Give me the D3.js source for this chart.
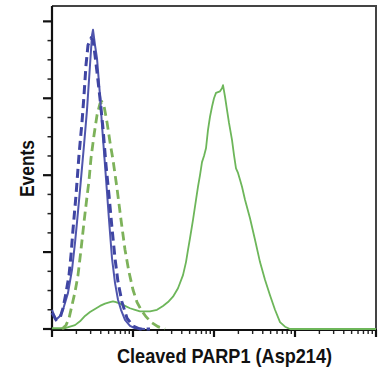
<!DOCTYPE html>
<html>
<head>
<meta charset="utf-8">
<script src="https://cdn.jsdelivr.net/npm/d3@7"></script>
<style>
  html, body { margin: 0; padding: 0; background: #fff; }
  svg { display: block; }
</style>
</head>
<body>
<svg id="chart" width="380" height="371"></svg>
<script>
// ---- data (intensity on log axis, event counts) ----
const blueSolidX = [1.00, 1.121, 1.255, 1.367, 1.576, 1.766, 1.923, 2.036, 2.217, 2.484, 2.705, 2.945, 3.118, 3.208, 3.396, 3.594, 3.913, 4.142, 4.511, 4.775, 5.054, 5.505, 5.995, 6.529, 7.110, 7.966, 9.183, 10.59, 14.07];
const blueSolidY = [25, 12, 17, 25, 47, 77, 112, 139, 181, 239, 285, 343, 382, 389, 369, 352, 304, 265, 213, 178, 142, 92, 60, 38, 25, 12, 4, 1, 0];

const blueDashX = [1.00, 1.121, 1.255, 1.367, 1.489, 1.622, 1.716, 1.816, 1.979, 2.154, 2.346, 2.484, 2.629, 2.783, 3.030, 3.208, 3.396, 3.594, 3.913, 4.261, 4.642, 5.054, 5.505, 5.995, 6.529, 7.315, 8.432, 10.0, 12.2, 16.21];
const blueDashY = [21, 12, 14, 27, 47, 70, 96, 129, 174, 226, 269, 304, 343, 369, 378, 376, 356, 334, 300, 261, 213, 174, 131, 92, 61, 35, 14, 4, 0, 0];

const greenDashX = [1.329, 1.489, 1.622, 1.766, 1.923, 2.094, 2.280, 2.484, 2.705, 2.863, 3.030, 3.300, 3.594, 3.913, 4.142, 4.385, 4.775, 5.200, 5.664, 6.346, 7.110, 7.966, 8.925, 10.0, 11.20, 12.56, 14.47, 17.16, 20.36, 24.84];
const greenDashY = [0, 5, 14, 31, 48, 70, 103, 139, 172, 193, 222, 252, 278, 293, 295, 290, 269, 243, 220, 183, 142, 103, 74, 51, 35, 25, 16, 8, 3, 0];

const greenSolidX = [1.00, 1.255, 1.447, 1.668, 1.923, 2.217, 2.555, 2.945, 3.396, 3.913, 4.511, 5.200, 5.664, 6.168, 6.911, 7.966, 9.183, 10.59, 12.20, 14.07, 16.21, 19.79, 23.46, 27.05, 31.18, 35.94, 41.42, 45.11, 47.75, 50.54, 55.05, 59.95, 63.46, 67.18, 71.10, 75.26, 79.66, 84.32, 89.25, 94.47, 100, 105.9, 112.0, 118.6, 125.6, 129.2, 136.8, 144.7, 153.2, 166.8, 176.6, 186.9, 197.9, 209.4, 221.7, 241.4, 278.3, 320.8, 369.8, 426.1, 491.3, 566.4, 652.9, 752.6, 867.6, 10000];
const greenSolidY = [1, 1, 1, 3, 5, 10, 17, 22, 26, 30, 33, 35, 36, 35, 33, 30, 27, 25, 23, 23, 23, 25, 30, 35, 42, 53, 70, 87, 103, 118, 142, 168, 185, 200, 217, 225, 235, 259, 276, 289, 300, 307, 308, 309, 313, 317, 302, 285, 268, 246, 226, 209, 203, 194, 185, 168, 144, 116, 87, 64, 44, 25, 9, 3, 0, 0];

const yMajorTicks = [0, 100, 200, 300, 400];
const xMajorTicks = [1, 10, 100, 1000, 10000];
const xLabel = "Cleaved PARP1 (Asp214)";
const yLabel = "Events";

// ---- layout ----
const svg = d3.select("#chart");
const mLeft = 52, mRight = 376, mTop = 6, mBottom = 329;

const x = d3.scaleLog().domain([1, 10000]).range([mLeft, mRight]);
const y = d3.scaleLinear().domain([0, 420]).range([mBottom, mTop]);

const blue = "#4f55ad";
const green = "#6db65a";

// frame (top & right borders)
svg.append("path")
  .attr("d", `M${mLeft},${mTop}H${mRight}V${mBottom + 1}`)
  .attr("fill", "none").attr("stroke", "#444").attr("stroke-width", 2);

// y axis ticks
const yMinor = d3.range(0, 401, 25).filter(v => v % 100 !== 0);
const yAxisG = svg.append("g");
yAxisG.selectAll("line.maj").data(yMajorTicks).join("line")
  .attr("x1", mLeft - 9).attr("x2", mLeft)
  .attr("y1", d => y(d)).attr("y2", d => y(d))
  .attr("stroke", "#111").attr("stroke-width", 2.2);
yAxisG.selectAll("line.min").data(yMinor).join("line")
  .attr("x1", mLeft - 4.5).attr("x2", mLeft)
  .attr("y1", d => y(d)).attr("y2", d => y(d))
  .attr("stroke", "#222").attr("stroke-width", 1.5);

// x axis ticks (log)
const xMinor = [];
for (let dec = 1; dec < 10000; dec *= 10) {
  for (let m = 2; m <= 9; m++) xMinor.push(dec * m);
}
const xAxisG = svg.append("g");
xAxisG.selectAll("line.maj").data(xMajorTicks).join("line")
  .attr("x1", d => x(d)).attr("x2", d => x(d))
  .attr("y1", mBottom + 1).attr("y2", mBottom + 8)
  .attr("stroke", "#111").attr("stroke-width", 2.2);
xAxisG.selectAll("line.min").data(xMinor).join("line")
  .attr("x1", d => x(d)).attr("x2", d => x(d))
  .attr("y1", mBottom + 1).attr("y2", mBottom + 5)
  .attr("stroke", "#222").attr("stroke-width", 1.4);

// axis lines
svg.append("line").attr("x1", mLeft).attr("x2", mLeft).attr("y1", mTop).attr("y2", mBottom + 2)
  .attr("stroke", "#111").attr("stroke-width", 2.2);
svg.append("line").attr("x1", mLeft - 1).attr("x2", mRight + 1).attr("y1", mBottom + 1).attr("y2", mBottom + 1)
  .attr("stroke", "#111").attr("stroke-width", 2.2);

// curves
const line = d3.line().x(d => x(d[0])).y(d => y(d[1])).curve(d3.curveLinear);
function series(xs, ys) { return xs.map((v, i) => [v, ys[i]]); }

svg.append("path").datum(series(greenSolidX, greenSolidY))
  .attr("d", line).attr("fill", "none").attr("stroke", green).attr("stroke-width", 1.8)
  .attr("stroke-linejoin", "round");
svg.append("path").datum(series(greenDashX, greenDashY))
  .attr("d", line).attr("fill", "none").attr("stroke", "#7db25a").attr("stroke-width", 2.8)
  .attr("stroke-dasharray", "9,5");
svg.append("path").datum(series(blueSolidX, blueSolidY))
  .attr("d", line).attr("fill", "none").attr("stroke", blue).attr("stroke-width", 2)
  .attr("stroke-linejoin", "round");
svg.append("path").datum(series(blueDashX, blueDashY))
  .attr("d", line).attr("fill", "none").attr("stroke", "#3f45a3").attr("stroke-width", 3)
  .attr("stroke-dasharray", "9,5");

// labels
const fontFam = "'Liberation Sans Narrow', 'Arial Narrow', 'Liberation Sans', Arial, sans-serif";
svg.append("text")
  .attr("x", 224.5).attr("y", 363)
  .attr("text-anchor", "middle")
  .attr("font-family", fontFam).attr("font-weight", "bold").attr("font-size", 21)
  .attr("textLength", 215).attr("lengthAdjust", "spacingAndGlyphs")
  .attr("fill", "#111")
  .text(xLabel);
svg.append("text")
  .attr("transform", "translate(34,168.5) rotate(-90)")
  .attr("text-anchor", "middle")
  .attr("font-family", fontFam).attr("font-weight", "bold").attr("font-size", 21)
  .attr("textLength", 57).attr("lengthAdjust", "spacingAndGlyphs")
  .attr("fill", "#111")
  .text(yLabel);
</script>
</body>
</html>
